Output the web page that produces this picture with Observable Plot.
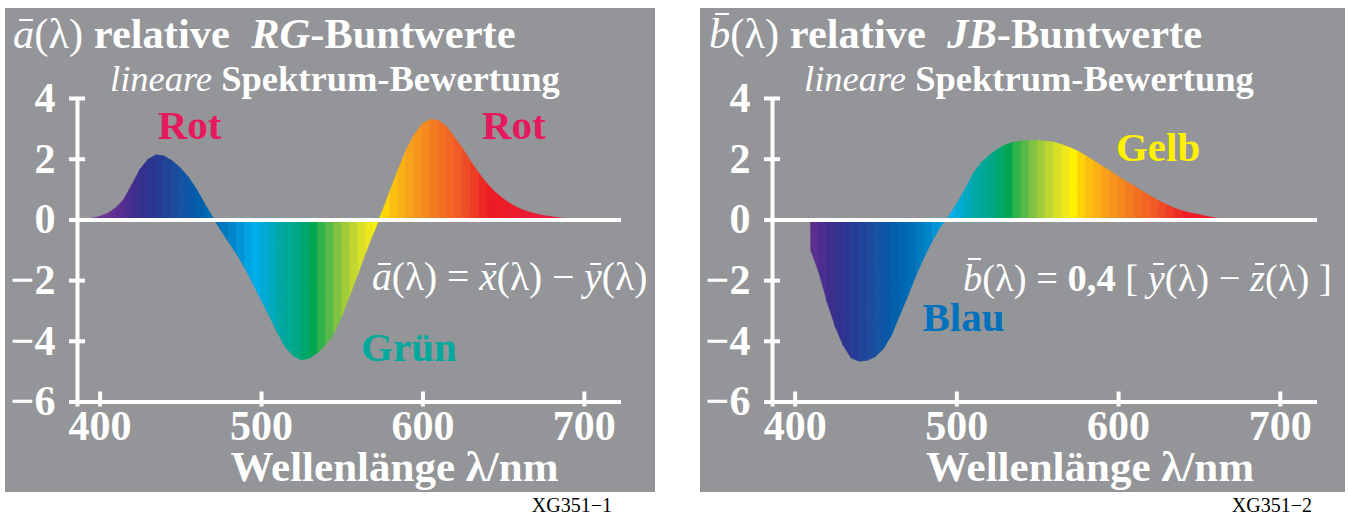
<!DOCTYPE html>
<html>
<head>
<meta charset="utf-8">
<script src="https://cdn.jsdelivr.net/npm/d3@7"></script>
<script src="https://cdn.jsdelivr.net/npm/@observablehq/plot@0.6"></script>
<style>
  html, body { margin: 0; padding: 0; background: #fff; }
  body { width: 1349px; height: 517px; position: relative; overflow: hidden; font-family: "Liberation Serif", "Times New Roman", serif; }
  .panel { position: absolute; top: 8px; height: 484px; background: #939598; }
  .panel svg { position: absolute; left: 0; top: 0; }
  .t { position: absolute; white-space: nowrap; color: #fff; line-height: 1; font-family: "Liberation Serif", "Times New Roman", serif; }
  .b { font-weight: bold; }
  .i { font-style: italic; }
  .ob { position: relative; display: inline-block; }
  .ob::before { content: ""; position: absolute; left: 0.14em; right: 0.02em; top: 0.12em; border-top: 0.06em solid #fff; }
  .obh::before { top: -0.02em; }
</style>
</head>
<body>
<div id="p1" class="panel" style="left:5px;width:650px"></div>
<div id="p2" class="panel" style="left:700px;width:645px"></div>
<script>
// ---------- data ----------
const xTicks = [400, 500, 600, 700];
const yTicks = [4, 2, 0, -2, -4, -6];
const xDomain = [386, 723];
const yDomain = [-6, 4];

// a(λ) = x(λ) − y(λ) (5 nm steps)
const wavesA = [390,395,400,405,410,415,420,425,430,435,440,445,450,455,460,465,470,475,480,485,490,495,500,505,510,515,520,525,530,535,540,545,550,555,560,565,570,575,580,585,590,595,600,605,610,615,620,625,630,635,640,645,650,655,660,665,670,675,680,685,690,695,700];
const valuesA = [0.01,0.04,0.10,0.20,0.38,0.66,1.15,1.65,1.98,2.13,2.09,1.93,1.70,1.40,1.00,0.52,0.08,-0.35,-0.75,-1.15,-1.60,-2.12,-2.65,-3.17,-3.72,-4.20,-4.50,-4.63,-4.57,-4.40,-4.12,-3.78,-3.20,-2.50,-1.80,-1.06,-0.40,0.25,0.95,1.65,2.30,2.80,3.15,3.30,3.26,3.05,2.70,2.33,1.90,1.52,1.18,0.90,0.68,0.50,0.36,0.26,0.19,0.13,0.09,0.05,0.03,0.01,0.00];

// b(λ) = 0,4 [y(λ) − z(λ)] (5 nm steps)
const wavesB = [410,415,420,425,430,435,440,445,450,455,460,465,470,475,480,485,490,495,500,505,510,515,520,525,530,535,540,545,550,555,560,565,570,575,580,585,590,595,600,605,610,615,620,625,630,635,640,645,650,655,660,665];
const valuesB = [-1.02,-1.75,-2.70,-3.52,-4.15,-4.57,-4.67,-4.64,-4.52,-4.25,-3.80,-3.15,-2.52,-1.85,-1.25,-0.72,-0.25,0.08,0.50,0.95,1.48,1.85,2.10,2.30,2.45,2.54,2.58,2.60,2.60,2.58,2.55,2.47,2.37,2.25,2.10,1.93,1.76,1.60,1.42,1.25,1.10,0.93,0.77,0.62,0.49,0.37,0.28,0.21,0.16,0.10,0.05,0.02];

// stripe colours (start wavelength of each 5 nm stripe)
const spectrumWaves = [380,385,390,395,400,405,410,415,420,425,430,435,440,445,450,455,460,465,470,475,480,485,490,495,500,505,510,515,520,525,530,535,540,545,550,555,560,565,570,575,580,585,590,595,600,605,610,615,620,625,630,635,640,645,650,655,660,665,670,675,680,685,690,695];
const spectrumColors = ["#7f3f98","#7f3f98","#7b3d97","#763a96","#6f3694","#673292","#5d2e91","#4c2e90","#3e2f8f","#33318f","#2c3592","#253c96","#20449a","#1b4c9e","#1353a3","#0759a7","#0060ac","#0067b2","#006fb8","#0079bf","#0085c9","#0094d6","#00a4e3","#00aee9","#00aad2","#00a9bb","#00a8a6","#00a896","#00a785","#00a76d","#00a651","#2fb34a","#57b947","#80c342","#a1cc3a","#c0d631","#d9e026","#eee81a","#fff200","#ffd40a","#fdc010","#fbb016","#f9a11b","#f7941d","#f5881f","#f47b20","#f36f21","#f26522","#f15a24","#ef4b24","#ee3b24","#ed2a24","#ed1c24","#ed1c26","#ec1c29","#ec1c2c","#eb1b2f","#eb1b32","#ea1b35","#ea1a38","#e91a3b","#e91a3e","#e81a41","#e81a44"];

// coloured word labels
const labelTextsA = ["Rot", "Rot", "Grün"];
const labelWavesA = [455.4, 656.3, 591.3];
const labelValuesA = [3.09, 3.09, -4.21];
const labelColorsA = ["#e6195e", "#e6195e", "#00a99d"];

const labelTextsB = ["Gelb", "Blau"];
const labelWavesB = [624.4, 504.1];
const labelValuesB = [2.38, -3.22];
const labelColorsB = ["#fff100", "#0071bc"];

// ---------- drawing ----------
function stripeColor(w) {
  const i = spectrumWaves.indexOf(w);
  return spectrumColors[i >= 0 ? i : spectrumColors.length - 1];
}

function makePanel(waves, values, texts, lw, lv, lc, width, marginRight) {
  const rows = [];
  for (let i = 0; i < waves.length - 1; i++) {
    const c = stripeColor(waves[i]);
    rows.push({w: waves[i], v: values[i], k: i, c});
    rows.push({w: waves[i + 1], v: values[i + 1], k: i, c});
  }
  const labels = texts.map((t, i) => ({t, w: lw[i], v: lv[i], c: lc[i]}));
  return Plot.plot({
    width, height: 484,
    marginLeft: 72, marginRight, marginTop: 90, marginBottom: 90.5,
    x: {domain: xDomain},
    y: {domain: yDomain},
    color: {type: "identity"},
    style: {background: "transparent", overflow: "visible", color: "#fff", fontFamily: "'Liberation Serif', 'Times New Roman', serif"},
    marks: [
      Plot.areaY(rows, {x: "w", y1: () => 0, y2: "v", z: "k", fill: "c", stroke: "c", strokeWidth: 0.6, curve: "linear"}),
      Plot.ruleY([0], {stroke: "#fff", strokeWidth: 4, insetLeft: -8}),
      Plot.ruleY([yDomain[0]], {stroke: "#fff", strokeWidth: 4, insetLeft: -8}),
      Plot.ruleX([xDomain[0]], {stroke: "#fff", strokeWidth: 4, insetBottom: -5}),
      Plot.axisY({ticks: yTicks, tickSize: 16, dx: 8, tickPadding: 14, strokeWidth: 4, fontSize: 42, fontWeight: "bold", label: null}),
      Plot.axisX({ticks: xTicks, tickSize: 15, dy: -10, tickPadding: 3, strokeWidth: 4, fontSize: 42, fontWeight: "bold", label: null}),
      Plot.text(labels, {x: "w", y: "v", text: "t", fill: "c", fontSize: 41, fontWeight: "bold", fontFamily: "'Liberation Serif', 'Times New Roman', serif"})
    ]
  });
}

document.getElementById("p1").appendChild(makePanel(wavesA, valuesA, labelTextsA, labelWavesA, labelValuesA, labelColorsA, 650, 34));
document.getElementById("p2").appendChild(makePanel(wavesB, valuesB, labelTextsB, labelWavesB, labelValuesB, labelColorsB, 645, 28));

// ---------- text around the plots ----------
function addText(html, x, baseline, size, opts = {}) {
  const lh = opts.lineHeight || 1;
  const el = document.createElement("div");
  el.className = "t";
  el.innerHTML = html;
  el.style.fontSize = size + "px";
  el.style.lineHeight = String(lh);
  // Liberation Serif: ascent 0.891, descent 0.216
  el.style.top = (baseline - (lh / 2 + 0.3375) * size) + "px";
  if (opts.align === "center") { el.style.left = x + "px"; el.style.transform = "translateX(-50%)"; }
  else if (opts.align === "right") { el.style.right = (1349 - x) + "px"; }
  else el.style.left = x + "px";
  if (opts.color) el.style.color = opts.color;
  document.body.appendChild(el);
}

const lam = "λ";
addText(`<span class="ob i">a</span>(${lam}) <span class="b">relative&nbsp; <i>RG</i>-Buntwerte</span>`, 13, 49, 42.5);
addText(`<span class="i">lineare</span> <span class="b">Spektrum-Bewertung</span>`, 110, 92, 36.5);
addText(`<span class="ob i">a</span>(${lam}) = <span class="ob i">x</span>(${lam}) − <span class="ob i">y</span>(${lam})`, 372, 291, 39.5);
addText(`<span class="b">Wellenlänge ${lam}/nm</span>`, 394.5, 481, 43, {align: "center", lineHeight: 0.6});
addText(`XG351−1`, 612, 512, 20, {align: "right", color: "#000"});

addText(`<span class="ob obh i">b</span>(${lam}) <span class="b">relative&nbsp; <i>JB</i>-Buntwerte</span>`, 709, 49, 42.5);
addText(`<span class="i">lineare</span> <span class="b">Spektrum-Bewertung</span>`, 804, 92, 36.5);
addText(`<span class="ob obh i">b</span>(${lam}) = <span class="b">0,4</span> [ <span class="ob i">y</span>(${lam}) − <span class="ob i">z</span>(${lam}) ]`, 963, 291, 38.5);
addText(`<span class="b">Wellenlänge ${lam}/nm</span>`, 1090, 481, 43, {align: "center", lineHeight: 0.6});
addText(`XG351−2`, 1312, 512, 20, {align: "right", color: "#000"});
</script>
</body>
</html>
